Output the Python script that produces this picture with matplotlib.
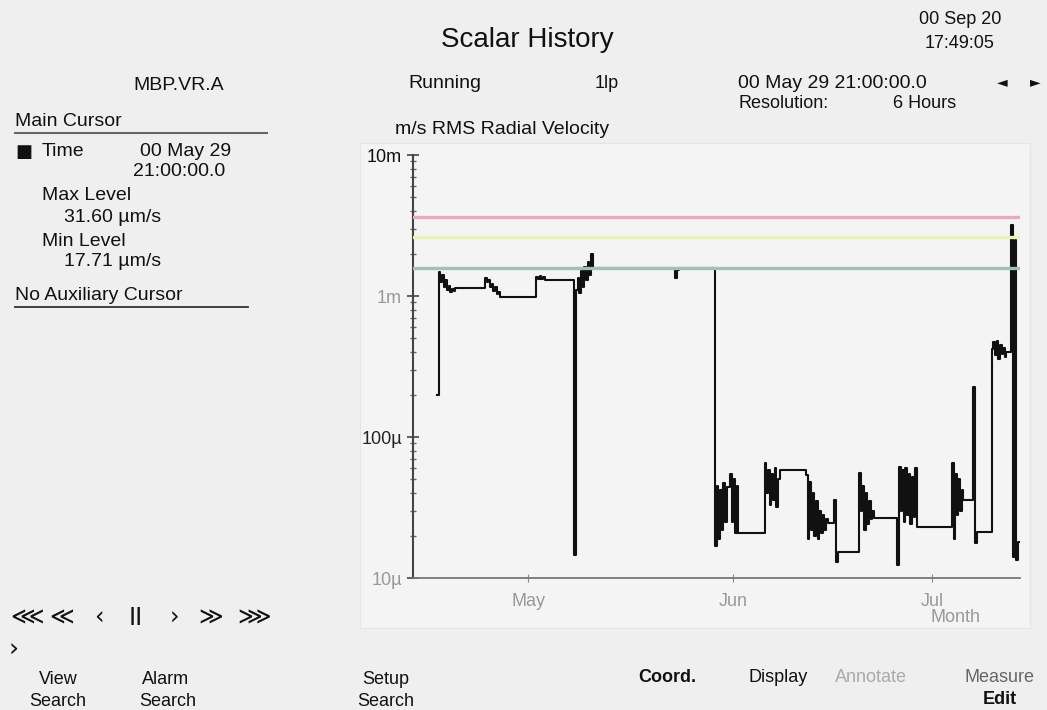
import matplotlib.pyplot as plt
import pandas as pd
from matplotlib.patches import Rectangle
from matplotlib.ticker import FixedLocator, FixedFormatter, LogLocator, NullFormatter

plt.rcParams['font.family'] = ['Liberation Sans', 'DejaVu Sans']

# RMS radial velocity history, 6 hour resolution (year 2000, "MM-DD HH"), values in um/s
sample_times = [
    "04-17 06", "04-17 12", "04-17 18", "04-18 00", "04-18 06", "04-18 12", "04-18 18",
    "04-19 00", "04-19 06", "04-19 12", "04-19 18", "04-20 00",
    "04-24 12", "04-24 18", "04-25 00", "04-25 06", "04-25 12", "04-25 18", "04-26 00",
    "04-26 06", "04-26 12", "04-26 18",
    "05-02 06", "05-02 12", "05-02 18", "05-03 00", "05-03 06", "05-03 12",
    "05-08 00", "05-08 06", "05-08 12", "05-08 18", "05-09 00", "05-09 06", "05-09 12",
    "05-09 18", "05-10 00", "05-10 06", "05-10 12", "05-10 18",
    "05-23 06", "05-23 12", "05-23 18",
    "05-29 06", "05-29 12", "05-29 18", "05-30 00", "05-30 06", "05-30 12", "05-30 18",
    "05-31 00", "05-31 12", "05-31 18", "06-01 00", "06-01 06", "06-01 12", "06-01 18",
    "06-05 18", "06-06 00", "06-06 06", "06-06 12", "06-06 18", "06-07 00", "06-07 06",
    "06-07 12", "06-07 18", "06-08 00",
    "06-12 00", "06-12 06", "06-12 12", "06-12 18", "06-13 00", "06-13 06", "06-13 12",
    "06-13 18", "06-14 00", "06-14 06", "06-14 12", "06-14 18", "06-15 00", "06-15 06",
    "06-16 06", "06-16 12", "06-16 18",
    "06-20 00", "06-20 06", "06-20 12", "06-20 18", "06-21 00", "06-21 06", "06-21 12",
    "06-21 18", "06-22 00", "06-22 06",
    "06-25 18", "06-26 00", "06-26 06", "06-26 12", "06-26 18", "06-27 00", "06-27 06",
    "06-27 12", "06-27 18", "06-28 00", "06-28 06", "06-28 12", "06-28 18",
    "07-04 00", "07-04 06", "07-04 12", "07-04 18", "07-05 00", "07-05 06", "07-05 12",
    "07-05 18",
    "07-07 06", "07-07 12", "07-07 18",
    "07-10 00", "07-10 06", "07-10 12", "07-10 18", "07-11 00", "07-11 06", "07-11 12",
    "07-11 18", "07-12 00", "07-12 06",
    "07-13 00", "07-13 06", "07-13 12", "07-13 18", "07-14 00", "07-14 06",
]
sample_values = [
    200, 1480, 1250, 1400, 1150, 1300, 1100,
    1180, 1070, 1120, 1080, 1140,
    1340, 1250, 1300, 1150, 1220, 1080, 1150,
    1030, 1060, 980,
    1360, 1320, 1380, 1330, 1360, 1300,
    14.5, 1100, 1350, 1050, 1500, 1150, 1600,
    1300, 1750, 1400, 2000, 1580,
    1350, 1520, 1580,
    17, 45, 19, 42, 22, 47, 25,
    44, 55, 25, 50, 21, 45, 20.9,
    65, 40, 58, 33, 55, 36, 60,
    32, 50, 58,
    54, 19, 48, 22, 40, 20, 35,
    19, 30, 21, 28, 22, 26, 24.5,
    36, 13, 15.3,
    56, 30, 45, 22, 40, 24, 35,
    26, 30, 26.7,
    12.4, 61, 30, 58, 25, 60, 28,
    55, 24, 52, 27, 60, 23,
    65, 19, 55, 28, 50, 30, 42,
    35.7,
    226, 17.7, 21.2,
    420, 470, 380, 480, 360, 450, 390,
    430, 370, 400,
    3190, 14, 2500, 13.4, 18, 18,
]

# alarm levels (um/s) drawn across the plot
alarm_levels = [3630, 2620, 1580]
alarm_colors = ['#e9aabd', '#eef1b5', '#9fc2b4']

month_ticks = ["2000-05-01", "2000-06-01", "2000-07-01"]
month_labels = ["May", "Jun", "Jul"]
level_ticks = [1e-5, 1e-4, 1e-3, 1e-2]
level_labels = ["10µ", "100µ", "1m", "10m"]
level_label_colors = ['#999999', '#222222', '#999999', '#111111']

# playback buttons
player_buttons = ["⋘", "≪", "‹", "II", "›", "≫", "⋙"]

W, H = 1047, 710
fig = plt.figure(figsize=(W / 100, H / 100), dpi=100, facecolor='#efefef')


def put(x, y, s, **kw):
    kw.setdefault('fontsize', 14)
    kw.setdefault('color', '#111111')
    fig.text(x / W, 1 - y / H, s, va='center', **kw)


# light panel behind the plot
fig.add_artist(Rectangle((360 / W, 1 - 628 / H), 670 / W, 485 / H,
                         transform=fig.transFigure, facecolor='#f4f4f4',
                         edgecolor='#e6e6e6', lw=1, zorder=-5))

ax = fig.add_axes([413 / W, 1 - 578 / H, 607 / W, 423 / H])
ax.set_facecolor('#f4f4f4')

t = pd.to_datetime(["2000-" + s for s in sample_times], format="%Y-%m-%d %H")
v = [x * 1e-6 for x in sample_values]

ax.plot(t, v, drawstyle='steps-post', color='#111111', lw=1.5, zorder=3)

# alarm lines sit on top of the trace, as in the original display
for level, c in zip(alarm_levels, alarm_colors):
    ax.axhline(level * 1e-6, color=c, lw=2.4, zorder=4)

ax.set_yscale('log')
ax.set_ylim(1e-5, 1e-2)
ax.set_xlim(pd.Timestamp("2000-04-13 15:00"), pd.Timestamp("2000-07-14 07:00"))

ax.yaxis.set_major_locator(FixedLocator(level_ticks))
ax.yaxis.set_major_formatter(FixedFormatter(level_labels))
ax.yaxis.set_minor_locator(LogLocator(base=10, subs=range(2, 10)))
ax.yaxis.set_minor_formatter(NullFormatter())
ax.tick_params(axis='y', which='major', direction='inout', length=8, width=1.2,
               color='#444444', labelsize=13, pad=4)
ax.tick_params(axis='y', which='minor', direction='inout', length=4, width=1,
               color='#666666')
for lab, c in zip(ax.get_yticklabels(), level_label_colors):
    lab.set_color(c)

ax.set_xticks(pd.to_datetime(month_ticks))
ax.set_xticklabels(month_labels)
ax.tick_params(axis='x', direction='inout', length=6, color='#888888',
               labelsize=13, labelcolor='#999999', pad=8)

for side in ['top', 'right']:
    ax.spines[side].set_visible(False)
ax.spines['left'].set_color('#444444')
ax.spines['left'].set_linewidth(1.5)
ax.spines['bottom'].set_color('#777777')
ax.spines['bottom'].set_linewidth(1.3)

put(955, 618, "Month", fontsize=13, color='#999999', ha='center')

# header
put(527, 40, "Scalar History", fontsize=20, ha='center')
put(960, 20, "00 Sep 20", ha='center', fontsize=13)
put(960, 44, "17:49:05", ha='center', fontsize=13)
put(133, 85, "MBP.VR.A")
put(408, 84, "Running")
put(595, 83, "1lp", fontsize=13)
put(738, 83, "00 May 29 21:00:00.0")
put(997, 82, "◄", fontsize=10, family=['DejaVu Sans'])
put(1030, 82, "►", fontsize=10, family=['DejaVu Sans'])
put(738, 103, "Resolution:", fontsize=13)
put(893, 103, "6 Hours", fontsize=13)
put(395, 129, "m/s RMS Radial Velocity")

# cursor panel
put(15, 122, "Main Cursor")
fig.add_artist(plt.Line2D([15 / W, 267 / W], [1 - 133 / H, 1 - 133 / H],
                          color='#666666', lw=1.5))
put(15, 152, "■", fontsize=13, family=['DejaVu Sans'])
put(42, 152, "Time")
put(140, 152, "00 May 29")
put(133, 172, "21:00:00.0")
put(42, 196, "Max Level")
put(64, 218, "31.60 µm/s")
put(42, 241, "Min Level")
put(64, 262, "17.71 µm/s")
put(15, 296, "No Auxiliary Cursor")
fig.add_artist(plt.Line2D([15 / W, 248 / W], [1 - 307 / H, 1 - 307 / H],
                          color='#333333', lw=1.3))

# play controls and menu
for bx, b in zip([27, 62, 99, 136, 175, 211, 254], player_buttons):
    put(bx, 618, b, fontsize=17, ha='center', family=['DejaVu Sans'])
put(9, 650, "›", fontsize=18, family=['DejaVu Sans'])
put(58, 680, "View", ha='center', fontsize=13)
put(58, 701, "Search", ha='center', fontsize=13)
put(166, 680, "Alarm", ha='center', fontsize=13)
put(168, 701, "Search", ha='center', fontsize=13)
put(386, 680, "Setup", ha='center', fontsize=13)
put(386, 701, "Search", ha='center', fontsize=13)
put(667, 677, "Coord.", ha='center', fontsize=13, weight='bold')
put(778, 677, "Display", ha='center', fontsize=13)
put(871, 677, "Annotate", ha='center', fontsize=13, color='#aaaaaa')
put(1000, 677, "Measure", ha='center', fontsize=13, color='#666666')
put(1000, 699, "Edit", ha='center', fontsize=13, weight='bold')

fig.savefig('out.png', dpi=100, facecolor=fig.get_facecolor())
